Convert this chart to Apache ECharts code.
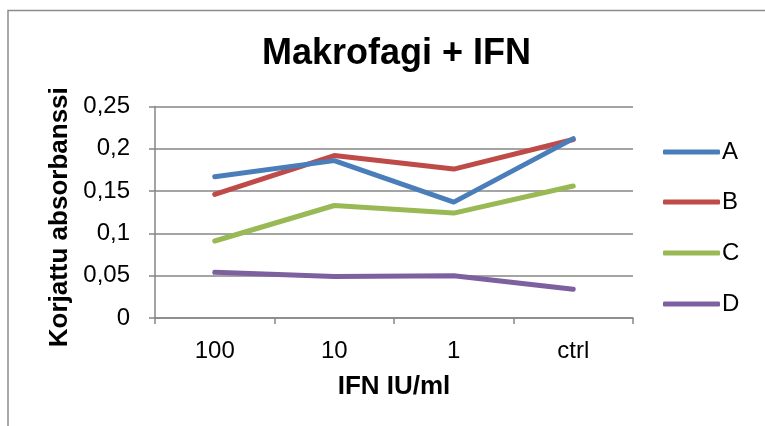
<!DOCTYPE html>
<html>
<head>
<meta charset="utf-8">
<script src="https://cdn.jsdelivr.net/npm/echarts@6/dist/echarts.min.js"></script>
<style>
html,body{margin:0;padding:0;background:#fff;}
#chart{width:765px;height:426px;}
</style>
</head>
<body>
<div id="chart"></div>
<script>
var categories = ['100', '10', '1', 'ctrl'];
var seriesA = [0.167, 0.186, 0.137, 0.212];
var seriesB = [0.146, 0.192, 0.176, 0.211];
var seriesC = [0.091, 0.133, 0.124, 0.156];
var seriesD = [0.054, 0.049, 0.050, 0.034];
var seriesNames = ['A', 'B', 'C', 'D'];
var yTicks = [0, 0.05, 0.1, 0.15, 0.2, 0.25];

var colors = ['#4A7EBB', '#BE4B48', '#98B954', '#7D60A0'];
var allData = [seriesA, seriesB, seriesC, seriesD];
var font = '"Liberation Sans", Arial, sans-serif';

var chart = echarts.init(document.getElementById('chart'), null, {renderer: 'canvas'});

var series = allData.map(function (d, i) {
  return {
    name: seriesNames[i],
    type: 'line',
    data: d,
    symbol: 'none',
    showSymbol: false,
    lineStyle: {color: colors[i], width: 5, cap: 'round', join: 'round'},
    itemStyle: {color: colors[i]},
    z: 10 - i
  };
});

var legendTops = [140, 190, 241, 292];
var legends = seriesNames.map(function (n, i) {
  return {
    data: [n],
    left: 663,
    top: legendTops[i],
    padding: 0,
    orient: 'vertical',
    icon: 'roundRect',
    itemWidth: 57,
    itemHeight: 5,
    itemGap: 0,
    textStyle: {fontFamily: font, fontSize: 24, color: '#000', padding: [0, 0, 0, -3]},
    selectedMode: false
  };
});

chart.setOption({
  backgroundColor: '#fff',
  animation: false,
  title: {
    text: 'Makrofagi + IFN',
    left: 391.5,
    textAlign: 'center',
    top: 31,
    textStyle: {fontFamily: font, fontSize: 36, fontWeight: 'bold', color: '#000'}
  },
  legend: legends,
  grid: {left: 155, right: 132, top: 106.5, bottom: 108, containLabel: false},
  xAxis: {
    type: 'category',
    data: categories,
    boundaryGap: true,
    name: 'IFN IU/ml',
    nameLocation: 'middle',
    nameGap: 56,
    nameTextStyle: {fontFamily: font, fontSize: 26, fontWeight: 'bold', color: '#000'},
    axisLine: {show: true, lineStyle: {color: '#868686', width: 1.5}},
    axisTick: {show: true, length: 6, lineStyle: {color: '#868686', width: 1.5}},
    axisLabel: {fontFamily: font, fontSize: 24, color: '#000', margin: 21}
  },
  yAxis: {
    type: 'value',
    min: yTicks[0],
    max: yTicks[yTicks.length - 1],
    interval: 0.05,
    name: 'Korjattu absorbanssi',
    nameLocation: 'middle',
    nameGap: 76,
    nameRotate: 90,
    nameTextStyle: {fontFamily: font, fontSize: 26, fontWeight: 'bold', color: '#000', padding: [0, 10, 0, 0]},
    axisLine: {show: true, lineStyle: {color: '#868686', width: 1.5}},
    axisTick: {show: true, length: 6, lineStyle: {color: '#868686', width: 1.5}},
    splitLine: {show: true, lineStyle: {color: '#868686', width: 1.5}},
    axisLabel: {
      fontFamily: font, fontSize: 24, color: '#000', margin: 25,
      formatter: function (v) { return String(Math.round(v * 100) / 100).replace('.', ','); }
    }
  },
  graphic: [{
    type: 'rect',
    shape: {x: 8, y: 10.5, width: 800, height: 500},
    style: {fill: 'none', stroke: '#8c8c8c', lineWidth: 1.5},
    silent: true,
    z: -1
  }],
  series: series
});
</script>
</body>
</html>
